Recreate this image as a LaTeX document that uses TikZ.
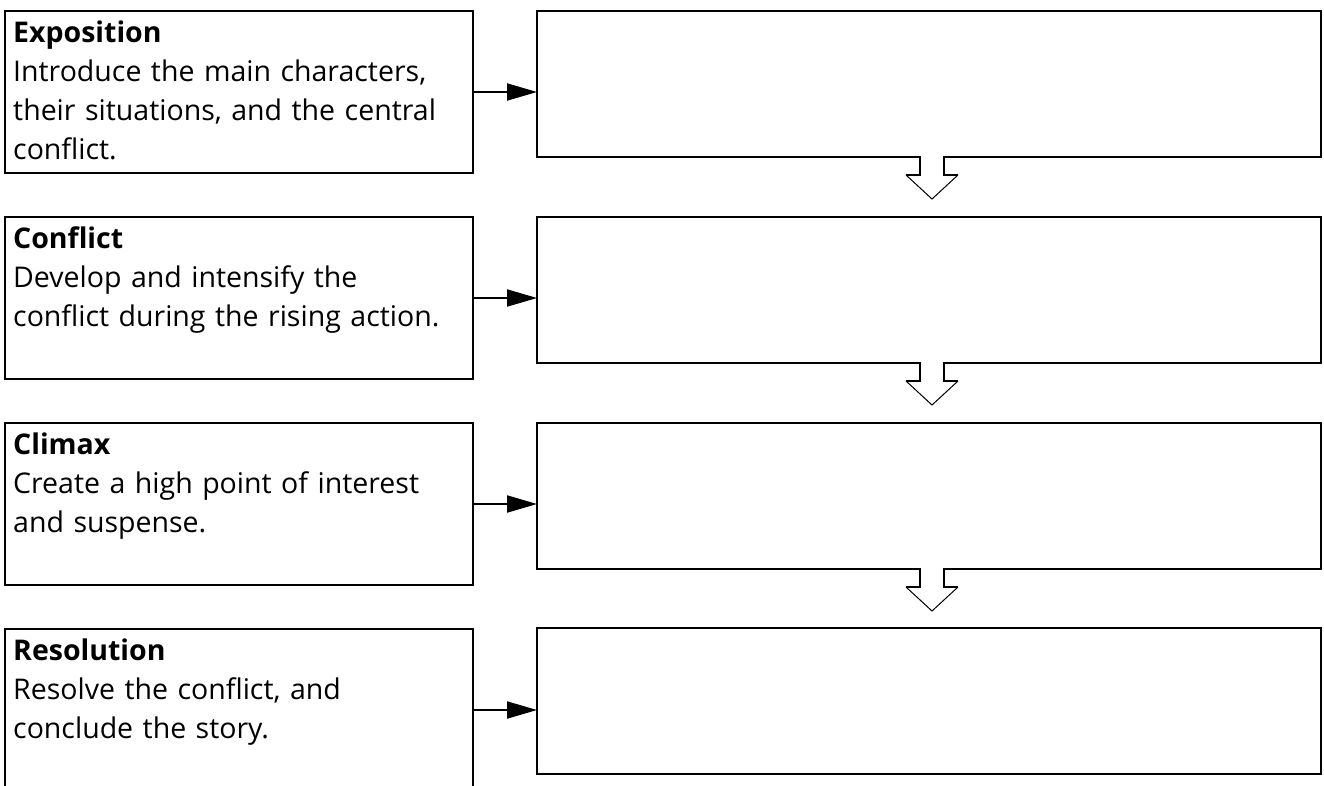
\documentclass[tikz,border=0pt]{standalone}
\usepackage{fontspec}
\setmainfont[Ligatures=NoCommon]{Open Sans}
\usetikzlibrary{arrows.meta,calc}
\begin{document}
\begin{tikzpicture}[x=1pt,y=-1pt,
  lbox/.style={draw,line width=2pt,minimum width=468pt,minimum height=162pt,
    anchor=north west,inner sep=0pt,outer sep=0pt},
  rbox/.style={draw,line width=2pt,minimum width=784pt,minimum height=146pt,
    anchor=north west,inner sep=0pt,outer sep=0pt},
  txt/.style={anchor=base west,inner sep=0pt,text width=458pt,align=left,
    font=\fontsize{28.5}{39}\selectfont},
  link/.style={line width=2pt,-{Triangle[length=30pt,width=17pt]}},
  shaft/.style={line width=2pt,line join=miter},
  head/.style={line width=1pt,line join=miter},
]
\useasboundingbox (0,0) rectangle (1324,785);
\clip (0,0) rectangle (1324,785);

% left column: stages with their descriptions
\node[lbox] (lb1) at (5,11) {};
\node[lbox] (lb2) at (5,217) {};
\node[lbox] (lb3) at (5,423) {};
\node[lbox] (lb4) at (5,629) {};

\node[txt] (lt1) at ($(lb1.north west)+(8,31)$)
  {\textbf{Exposition}\\Introduce the main characters,\\their situations, and the central\\conflict.};
\node[txt] (lt2) at ($(lb2.north west)+(8,31)$)
  {\textbf{Conflict}\\Develop and intensify the\\conflict during the rising action.};
\node[txt] (lt3) at ($(lb3.north west)+(8,31)$)
  {\textbf{Climax}\\Create a high point of interest\\and suspense.};
\node[txt] (lt4) at ($(lb4.north west)+(8,31)$)
  {\textbf{Resolution}\\Resolve the conflict, and\\conclude the story.};

% right column: empty answer boxes
\node[rbox] (rb1) at (537,11) {};
\node[rbox] (rb2) at (537,217) {};
\node[rbox] (rb3) at (537,423) {};
\node[rbox] (rb4) at (537,628) {};

% links from each stage to its box
\foreach \n in {1,2,3,4}
  \draw[link] (lb\n.east) -- (lb\n.east -| rb\n.west);

% hollow block arrows between the right boxes
\foreach \n in {1,2,3} {
  \coordinate (d\n) at ($(rb\n.south)+(3,0)$);
  \begin{scope}[shift={(d\n)}]
    \fill[white] (-11,-3) rectangle (11,18);
    \draw[shaft] (-12,-1) -- (-12,18) -- (-26,18);
    \draw[head] (-26,18) -- (0,42) -- (26,18);
    \draw[shaft] (26,18) -- (12,18) -- (12,-1);
  \end{scope}
}
\end{tikzpicture}
\end{document}
